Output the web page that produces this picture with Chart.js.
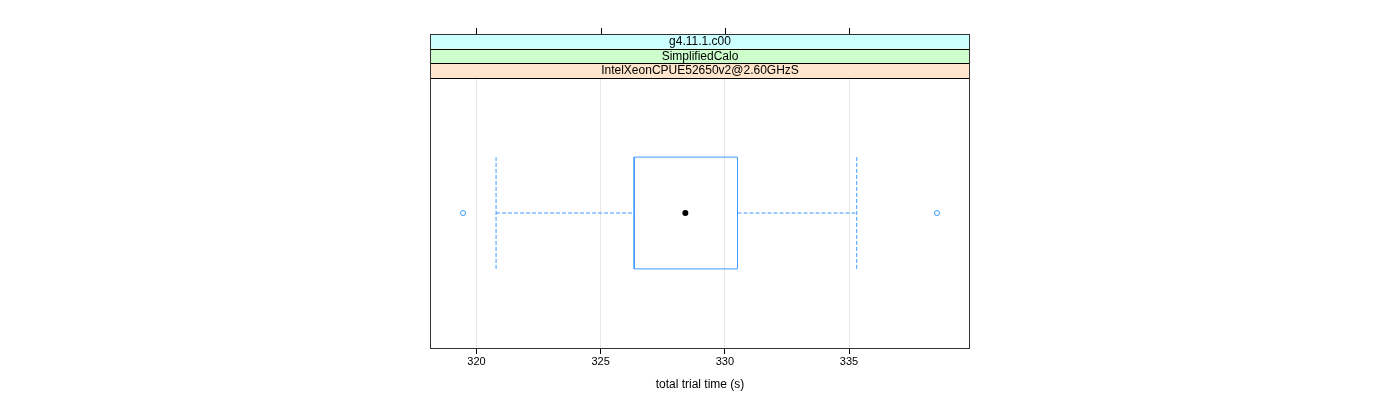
<!DOCTYPE html>
<html>
<head>
<meta charset="utf-8">
<script src="https://cdn.jsdelivr.net/npm/chart.js@4.4.0/dist/chart.umd.min.js"></script>
<style>
  html, body { margin: 0; padding: 0; background: #ffffff; }
  #wrap { width: 1400px; height: 400px; position: relative; }
</style>
</head>
<body>
<div id="wrap"><canvas id="c" width="1400" height="400"></canvas></div>
<script>
// ---- data ----
const stripLabels = ["g4.11.1.c00", "SimplifiedCalo", "IntelXeonCPUE52650v2@2.60GHzS"];
const stripColors = ["#ccffff", "#ccffcc", "#ffe5cc"];
const boxStats = { whiskerLow: 320.79, q1: 326.35, median: 328.41, q3: 330.51, whiskerHigh: 335.31 };
const outliers = [319.46, 338.54];
const tickValues = [320, 325, 330, 335];
const xRange = [318.13, 339.87];
const xTitle = "total trial time (s)";

// ---- drawing ----
const FONT = "'Liberation Sans', Arial, Helvetica, sans-serif";
const BLUE = "#3d9bff";
const yC = 0.5, half = 0.207;
const lo = yC - half, hi = yC + half;
const DASH = [4, 2];

const datasets = [
  { data: [{x: boxStats.q1, y: lo}, {x: boxStats.q3, y: lo}, {x: boxStats.q3, y: hi}, {x: boxStats.q1, y: hi}, {x: boxStats.q1, y: lo}],
    showLine: true, borderColor: BLUE, borderWidth: 1, pointRadius: 0, fill: false },
  { data: [{x: boxStats.whiskerLow, y: yC}, {x: boxStats.q1, y: yC}],
    showLine: true, borderColor: BLUE, borderWidth: 1, borderDash: DASH, pointRadius: 0 },
  { data: [{x: boxStats.q3, y: yC}, {x: boxStats.whiskerHigh, y: yC}],
    showLine: true, borderColor: BLUE, borderWidth: 1, borderDash: DASH, pointRadius: 0 },
  { data: [{x: boxStats.whiskerLow, y: lo}, {x: boxStats.whiskerLow, y: hi}],
    showLine: true, borderColor: BLUE, borderWidth: 1, borderDash: DASH, pointRadius: 0 },
  { data: [{x: boxStats.whiskerHigh, y: lo}, {x: boxStats.whiskerHigh, y: hi}],
    showLine: true, borderColor: BLUE, borderWidth: 1, borderDash: DASH, pointRadius: 0 },
  { data: outliers.map(v => ({x: v, y: yC})),
    showLine: false, pointStyle: 'circle', pointRadius: 2.5, borderColor: BLUE, borderWidth: 1, backgroundColor: 'rgba(0,0,0,0)' },
  { data: [{x: boxStats.median, y: yC}],
    showLine: false, pointStyle: 'circle', pointRadius: 3, borderColor: '#000000', backgroundColor: '#000000', borderWidth: 0 }
];

const STRIP_H = 14.67;
const framePlugin = {
  id: 'frame',
  afterDraw(chart) {
    const ctx = chart.ctx;
    const a = chart.chartArea;
    const xs = chart.scales.x;
    const left = Math.round(a.left) + 0.5, right = Math.round(a.right) - 0.5;
    const top = Math.round(a.top);
    const nStrip = stripLabels.length;
    const stripTop = top - nStrip * STRIP_H;
    ctx.save();
    for (let i = 0; i < nStrip; i++) {
      const y0 = stripTop + i * STRIP_H;
      ctx.fillStyle = stripColors[i];
      ctx.fillRect(left, y0, right - left, STRIP_H);
      ctx.fillStyle = '#000';
      ctx.font = '12px ' + FONT;
      ctx.textAlign = 'center';
      ctx.textBaseline = 'middle';
      ctx.fillText(stripLabels[i], (left + right) / 2, y0 + STRIP_H / 2 + 0.5);
    }
    ctx.strokeStyle = '#000';
    ctx.lineWidth = 1;
    for (let i = 1; i <= nStrip; i++) {
      const y = Math.round(stripTop + i * STRIP_H) + 0.5;
      ctx.beginPath(); ctx.moveTo(left, y); ctx.lineTo(right, y); ctx.stroke();
    }
    ctx.strokeStyle = '#333';
    ctx.strokeRect(left, Math.round(stripTop) + 0.5, right - left, Math.round(a.bottom) - Math.round(stripTop));
    ctx.strokeStyle = '#000';
    tickValues.forEach(v => {
      const px = Math.round(xs.getPixelForValue(v)) + 0.5;
      ctx.beginPath(); ctx.moveTo(px, Math.round(stripTop)); ctx.lineTo(px, Math.round(stripTop) - 6); ctx.stroke();
    });
    ctx.restore();
  }
};

new Chart(document.getElementById('c'), {
  type: 'scatter',
  data: { datasets },
  plugins: [framePlugin],
  options: {
    responsive: false,
    animation: false,
    events: [],
    layout: { padding: { left: 430, right: 430, top: 78, bottom: 0 } },
    plugins: { legend: { display: false }, tooltip: { enabled: false } },
    scales: {
      x: {
        type: 'linear', min: xRange[0], max: xRange[1],
        afterBuildTicks(s) { s.ticks = tickValues.map(v => ({ value: v })); },
        afterFit(s) { s.height = 52; },
        grid: { color: '#e6e6e6', tickColor: '#000', drawTicks: true, tickLength: 6 },
        border: { display: false },
        ticks: { color: '#000', font: { family: FONT, size: 11 }, padding: 1, maxRotation: 0, autoSkip: false },
        title: { display: true, text: xTitle, color: '#000', font: { family: FONT, size: 12 }, padding: { top: 0, bottom: 8 } }
      },
      y: { type: 'linear', min: 0, max: 1, display: false }
    }
  }
});
</script>
</body>
</html>
